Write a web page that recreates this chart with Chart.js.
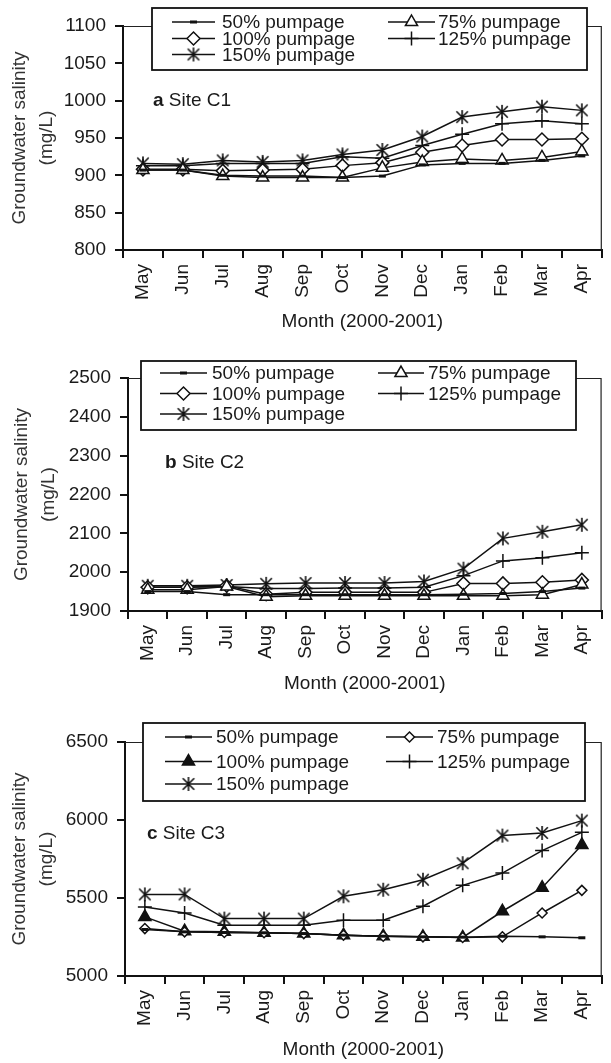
<!DOCTYPE html>
<html>
<head>
<meta charset="utf-8">
<script src="https://cdn.jsdelivr.net/npm/chart.js@4.4.1/dist/chart.umd.min.js"></script>
<style>
html,body{margin:0;padding:0;background:#fff;}
#wrap{position:relative;width:611px;height:1063px;overflow:hidden;}
canvas{position:absolute;left:0;}
</style>
</head>
<body>
<div id="wrap">
<canvas id="c1" width="611" height="345" style="top:0px"></canvas>
<canvas id="c2" width="611" height="360" style="top:345px"></canvas>
<canvas id="c3" width="611" height="358" style="top:705px"></canvas>
</div>
<script>
// ---- data ----
const months = ["May","Jun","Jul","Aug","Sep","Oct","Nov","Dec","Jan","Feb","Mar","Apr"];
const seriesLabels = ["50% pumpage","75% pumpage","100% pumpage","125% pumpage","150% pumpage"];

// Site C1 (mg/L)
const c1_50  = [907,907,900,899,899,897,899,914,916,916,920,926];
const c1_75  = [907,907,899,897,897,897,910,918,922,920,924,932];
const c1_100 = [908,908,906,907,908,913,917,931,940,948,948,949];
const c1_125 = [913,913,916,916,916,925,923,940,955,969,973,969];
const c1_150 = [916,915,920,918,920,928,934,952,978,985,992,987];

// Site C2 (mg/L)
const c2_50  = [1950,1950,1942,1942,1942,1942,1942,1942,1943,1945,1950,1959];
const c2_75  = [1955,1955,1963,1937,1939,1939,1939,1939,1939,1939,1942,1968];
const c2_100 = [1961,1961,1965,1943,1948,1948,1948,1948,1971,1971,1974,1980];
const c2_125 = [1961,1961,1963,1958,1958,1959,1959,1961,1991,2029,2037,2050];
const c2_150 = [1965,1965,1967,1970,1972,1972,1972,1976,2009,2087,2104,2122];

// Site C3 (mg/L)
const c3_50  = [5298,5283,5279,5277,5272,5262,5255,5251,5249,5255,5251,5245];
const c3_75  = [5304,5283,5279,5277,5272,5262,5255,5251,5247,5251,5404,5549];
const c3_100 = [5379,5287,5283,5277,5272,5262,5255,5251,5247,5415,5566,5840];
const c3_125 = [5443,5404,5326,5326,5326,5357,5357,5447,5581,5660,5804,5921];
const c3_150 = [5523,5523,5368,5368,5368,5511,5553,5617,5723,5900,5917,5996];

// ---- styling ----
Chart.defaults.font.family = "'Liberation Sans', Arial, sans-serif";
Chart.defaults.color = "#1a1a1a";
const INK = "#111";
const FONT = 19;

function starImg(r){
  const c = document.createElement("canvas");
  const s = 2*r + 4;
  c.width = c.height = s;
  const g = c.getContext("2d");
  const m = s/2, d = r*0.82;
  g.strokeStyle = INK; g.lineWidth = 1.6;
  g.beginPath();
  g.moveTo(m, m-r); g.lineTo(m, m+r);
  g.moveTo(m-d, m-d); g.lineTo(m+d, m+d);
  g.moveTo(m+d, m-d); g.lineTo(m-d, m+d);
  g.stroke();
  return c;
}
const STAR = starImg(7);

function marker(kind){
  switch(kind){
    case "dash":     return {pointStyle:"line", pointRadius:3.5, pointBorderWidth:3, pointBackgroundColor:INK};
    case "tri":      return {pointStyle:"triangle", pointRadius:7, pointBorderWidth:1.5, pointBackgroundColor:"#fff"};
    case "triFill":  return {pointStyle:"triangle", pointRadius:7, pointBorderWidth:1.5, pointBackgroundColor:INK};
    case "dia":      return {pointStyle:"rectRot", pointRadius:6.5, pointBorderWidth:1.5, pointBackgroundColor:"#fff"};
    case "diaSmall": return {pointStyle:"rectRot", pointRadius:5, pointBorderWidth:1.5, pointBackgroundColor:"#fff"};
    case "plus":     return {pointStyle:"cross", pointRadius:7, pointBorderWidth:1.5, pointBackgroundColor:INK};
    case "star":     return {pointStyle:STAR, pointRadius:7, pointBorderWidth:1.5, pointBackgroundColor:INK};
  }
}

function makeSets(values, kinds){
  return values.map((v,i) => Object.assign({
    label: seriesLabels[i],
    data: v,
    borderColor: INK,
    borderWidth: 1.5,
    pointBorderColor: INK,
    tension: 0,
    clip: false
  }, marker(kinds[i])));
}

// frame, legend box and site label
const panelDeco = {
  id: "panelDeco",
  afterDraw(chart, args, o){
    const ctx = chart.ctx, a = chart.chartArea, off = o.offset;
    ctx.save();
    ctx.strokeStyle = "#222"; ctx.lineWidth = 1.2;
    ctx.beginPath();
    ctx.moveTo(a.left, a.top + 0.5);
    ctx.lineTo(a.right - 0.5, a.top + 0.5);
    ctx.lineTo(a.right - 0.5, a.bottom);
    ctx.stroke();

    const b = o.box;
    ctx.fillStyle = "#fff";
    ctx.fillRect(b[0], b[1]-off, b[2]-b[0], b[3]-b[1]);
    ctx.lineWidth = 1.8; ctx.strokeStyle = INK;
    ctx.strokeRect(b[0], b[1]-off, b[2]-b[0], b[3]-b[1]);

    ctx.font = FONT + "px 'Liberation Sans', Arial, sans-serif";
    ctx.textBaseline = "middle";
    chart.data.datasets.forEach((ds,i) => {
      const col = i % 2, row = Math.floor(i/2);
      const lx = o.lineX[col], y = o.rows[row] - off;
      ctx.strokeStyle = INK; ctx.lineWidth = 1.5;
      ctx.beginPath(); ctx.moveTo(lx[0], y); ctx.lineTo(lx[1], y); ctx.stroke();
      ctx.fillStyle = ds.pointBackgroundColor;
      ctx.strokeStyle = INK;
      ctx.lineWidth = ds.pointBorderWidth;
      Chart.helpers.drawPoint(ctx, {pointStyle: ds.pointStyle, radius: ds.pointRadius, rotation: 0, borderWidth: ds.pointBorderWidth}, (lx[0]+lx[1])/2, y);
      ctx.fillStyle = "#1a1a1a";
      ctx.textAlign = "left";
      ctx.fillText(ds.label, o.textX[col], y + 1);
    });

    ctx.font = "bold " + FONT + "px 'Liberation Sans', Arial, sans-serif";
    ctx.fillText(o.tag[0], o.tag[2], o.tag[3] - off + 1);
    const w = ctx.measureText(o.tag[0]).width;
    ctx.font = FONT + "px 'Liberation Sans', Arial, sans-serif";
    ctx.fillText(" " + o.tag[1], o.tag[2] + w, o.tag[3] - off + 1);
    ctx.restore();
  }
};

function makeChart(id, P, sets, yMin, yMax, yStep){
  const xH = P.top + P.h - P.bottom;
  const titleLH = FONT * 1.2;
  new Chart(document.getElementById(id), {
    type: "line",
    data: { labels: months, datasets: sets },
    plugins: [panelDeco],
    options: {
      responsive: false,
      animation: false,
      events: [],
      layout: { padding: { left: 0, top: P.ctop - P.top, right: 611 - P.right, bottom: 0 } },
      plugins: {
        legend: { display: false },
        tooltip: { enabled: false },
        panelDeco: Object.assign({ offset: P.top }, P.deco)
      },
      scales: {
        x: {
          type: "category",
          offset: true,
          grid: { offset: true, drawOnChartArea: false, color: INK, lineWidth: 2, tickLength: 8 },
          border: { color: INK, width: 2 },
          ticks: { minRotation: 90, maxRotation: 90, autoSkip: false, padding: 6, font: { size: FONT } },
          title: { display: true, text: "Month (2000-2001)", font: { size: FONT, lineHeight: 1.2 },
                   padding: { top: 0, bottom: (P.top + P.h - P.titleY) - titleLH/2 } },
          afterFit(s){ s.height = xH; }
        },
        y: {
          min: yMin, max: yMax,
          grid: { drawOnChartArea: false, color: INK, lineWidth: 2, tickLength: 8 },
          border: { color: INK, width: 2 },
          ticks: { stepSize: yStep, padding: 9, font: { size: FONT }, callback: v => String(v) },
          title: { display: true, text: ["Groundwater salinity", "(mg/L)"], color: "#333",
                   font: { size: FONT, lineHeight: 1.42 }, padding: { top: P.yTitleX - 13.5, bottom: 0 } },
          afterFit(s){ s.width = P.left; }
        }
      }
    }
  });
}

makeChart("c1", {
  top: 0, h: 345, left: 123, ctop: 26, right: 605, bottom: 250, titleY: 322, yTitleX: 20,
  deco: { box: [152, 8, 587, 70], lineX: [[172, 215], [388, 435]], textX: [222, 438], rows: [22, 38.5, 54.5],
          tag: ["a", "Site C1", 153, 100] }
}, makeSets([c1_50, c1_75, c1_100, c1_125, c1_150], ["dash","tri","dia","plus","star"]), 800, 1100, 50);

makeChart("c2", {
  top: 345, h: 360, left: 128, ctop: 378, right: 610, bottom: 611, titleY: 684, yTitleX: 22,
  deco: { box: [141, 361, 576, 430], lineX: [[160, 207], [378, 424]], textX: [212, 428], rows: [373, 393.5, 414],
          tag: ["b", "Site C2", 165, 462] }
}, makeSets([c2_50, c2_75, c2_100, c2_125, c2_150], ["dash","tri","dia","plus","star"]), 1900, 2500, 100);

makeChart("c3", {
  top: 705, h: 358, left: 125, ctop: 742, right: 611, bottom: 976, titleY: 1050, yTitleX: 20,
  deco: { box: [143, 723, 585, 801], lineX: [[165, 212], [386, 433]], textX: [216, 437], rows: [737, 761.5, 784],
          tag: ["c", "Site C3", 147, 833] }
}, makeSets([c3_50, c3_75, c3_100, c3_125, c3_150], ["dash","diaSmall","triFill","plus","star"]), 5000, 6500, 500);
</script>
</body>
</html>
